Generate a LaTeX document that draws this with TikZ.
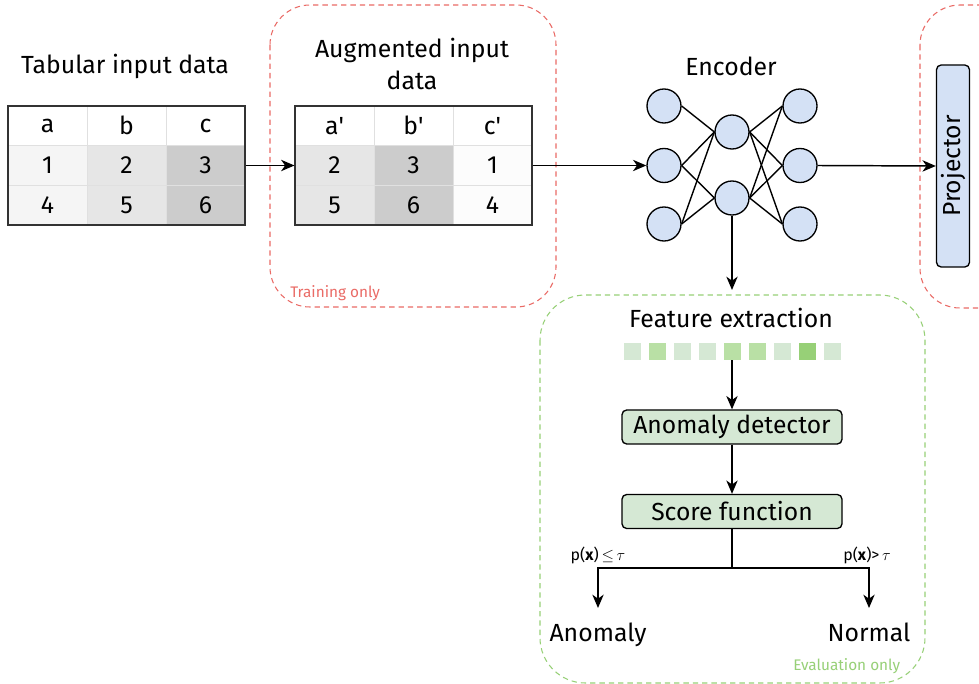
\documentclass[tikz,border=0pt]{standalone}
\usepackage{fontspec}
\setmainfont{Fira Sans}
\usetikzlibrary{arrows.meta}
\definecolor{redd}{HTML}{EA6B66}
\definecolor{greend}{HTML}{97D077}
\definecolor{bluef}{HTML}{D4E1F5}
\definecolor{greenf}{HTML}{D5E8D4}
\definecolor{greenm}{HTML}{B9E0A5}
\definecolor{greens}{HTML}{97D077}
\definecolor{ga}{HTML}{F5F5F5}
\definecolor{gb}{HTML}{E6E6E6}
\definecolor{gc}{HTML}{CCCCCC}
\definecolor{gw}{HTML}{FCFCFC}
\begin{document}
\begin{tikzpicture}[x=0.75pt,y=-0.75pt,
  big/.style={font=\fontsize{18.6}{24}\selectfont, inner sep=0pt},
  cell/.style={draw=black!12, line width=0.4pt, minimum width=59.25pt, minimum height=29.75pt, inner sep=0pt, font=\fontsize{18.6}{20}\selectfont},
  tabframe/.style={draw=black!80, line width=0.8pt, minimum width=177.75pt, minimum height=89.25pt, inner sep=0pt},
  neuron/.style={circle, draw=black, line width=1pt, fill=bluef, minimum size=25.5pt, inner sep=0pt},
  greenbox/.style={draw=black, line width=1pt, fill=greenf, rounded corners=3.5pt, minimum width=165pt, minimum height=25.5pt, inner sep=0pt, font=\fontsize{18.5}{20}\selectfont},
  sq/.style={minimum size=12.75pt, inner sep=0pt},
  arr/.style={-{Stealth[length=10pt,width=8.5pt,inset=3pt]}, line width=1.1pt},
  conn/.style={line width=1.05pt},
  regionred/.style={draw=redd, line width=0.8pt, dash pattern=on 4pt off 3pt, rounded corners=30pt},
  regiongreen/.style={draw=greend, line width=0.8pt, dash pattern=on 4pt off 3pt, rounded corners=34pt},
  small/.style={font=\fontsize{11.5}{13}\selectfont, inner sep=0pt},
  lbl/.style={font=\fontsize{12}{14}\selectfont, inner sep=0pt}
]
\useasboundingbox (0,0) rectangle (979,684);
\clip (0,0) rectangle (979,684);
\fill[white] (0,0) rectangle (979,684);

% regions
\draw[regionred] (270,5) rectangle (556,307);
\draw[regionred] (920,5) rectangle (1030,308);
\draw[regiongreen] (540,295) rectangle (925,683);
\node[small, text=redd, anchor=west] (trainonly) at (290,293) {Training only};
\node[small, text=greend, anchor=west] (evalonly) at (793,666) {Evaluation only};

% table 1
\node[big] (t1title) at (125,66) {Tabular input data};
\node[cell, fill=white] (t1ha) at (47.5,125.8) {a};
\node[cell, fill=white] (t1hb) at (126.5,125.8) {b};
\node[cell, fill=white] (t1hc) at (205.5,125.8) {c};
\node[cell, fill=ga] (t1r1a) at (47.5,165.5) {1};
\node[cell, fill=gb] (t1r1b) at (126.5,165.5) {2};
\node[cell, fill=gc] (t1r1c) at (205.5,165.5) {3};
\node[cell, fill=ga] (t1r2a) at (47.5,205.2) {4};
\node[cell, fill=gb] (t1r2b) at (126.5,205.2) {5};
\node[cell, fill=gc] (t1r2c) at (205.5,205.2) {6};
\node[tabframe] (tab1) at (126.5,165.5) {};

% table 2
\node[big, align=center] (t2title) at (412,64) {Augmented input\\data};
\node[cell, fill=white] (t2ha) at (334.5,125.8) {a\textquotesingle};
\node[cell, fill=white] (t2hb) at (413.5,125.8) {b\textquotesingle};
\node[cell, fill=white] (t2hc) at (492.5,125.8) {c\textquotesingle};
\node[cell, fill=gb] (t2r1a) at (334.5,165.5) {2};
\node[cell, fill=gc] (t2r1b) at (413.5,165.5) {3};
\node[cell, fill=gw] (t2r1c) at (492.5,165.5) {1};
\node[cell, fill=gb] (t2r2a) at (334.5,205.2) {5};
\node[cell, fill=gc] (t2r2b) at (413.5,205.2) {6};
\node[cell, fill=gw] (t2r2c) at (492.5,205.2) {4};
\node[tabframe] (tab2) at (413.5,165.5) {};

\draw[arr] (tab1.east) -- (tab2.west);

% encoder
\node[big] (enctitle) at (731,66) {Encoder};
\node[neuron] (l1) at (664,106) {};
\node[neuron] (l2) at (664,165.5) {};
\node[neuron] (l3) at (664,224) {};
\node[neuron] (m1) at (732,132) {};
\node[neuron] (m2) at (732,198) {};
\node[neuron] (r1) at (800,106) {};
\node[neuron] (r2) at (800,165.5) {};
\node[neuron] (r3) at (800,224) {};
\draw[conn] (l1.east) -- (m1.west);
\draw[conn] (l2.east) -- (m1.west);
\draw[conn] (l2.east) -- (m2.west);
\draw[conn] (l3.east) -- (m1.west);
\draw[conn] (l3.east) -- (m2.west);
\foreach \m in {m1,m2} \foreach \r in {r1,r2,r3} \draw[conn] (\m.east) -- (\r.west);

\draw[arr] (tab2.east) -- (l2.west);

% projector
\node[draw=black, line width=1pt, fill=bluef, rounded corners=3.5pt, rotate=90, minimum width=151.5pt, minimum height=24.75pt, inner sep=0pt, font=\fontsize{18.5}{20}\selectfont] (proj) at (953,166) {Projector};
\draw[arr] (r2.east) -- (proj.north);

% feature extraction
\coordinate (feIn) at (732,290);
\draw[arr] (m2.south) -- (feIn);
\node[big] (fetitle) at (731,318) {Feature extraction};
\foreach \c [count=\i from 0] in {greenf,greenm,greenf,greenf,greenm,greenm,greenf,greens,greenf} {
  \node[sq, fill=\c] (s\i) at (632+25*\i,351.5) {};
}
\node[greenbox] (ad) at (732,427) {Anomaly detector};
\node[greenbox] (sf) at (732,511.5) {Score function};
\draw[arr] (s4.south) -- (ad.north);
\draw[arr] (ad.south) -- (sf.north);

% branches
\coordinate (br) at (732,568);
\node[big, anchor=north, inner ysep=11pt] (anomaly) at (598,608) {Anomaly};
\node[big, anchor=north, inner ysep=11pt] (normal) at (869,608) {Normal};
\draw[conn] (sf.south) -- (br);
\draw[arr] (br) -| (anomaly.north);
\draw[arr] (br) -| (normal.north);
\node[lbl, anchor=base] (lowlbl) at (598,560) {p(\textbf{x})\,$\leq$\,$\tau$};
\node[lbl, anchor=base] (highlbl) at (867,560) {p(\textbf{x})>\,$\tau$};
\end{tikzpicture}
\end{document}
